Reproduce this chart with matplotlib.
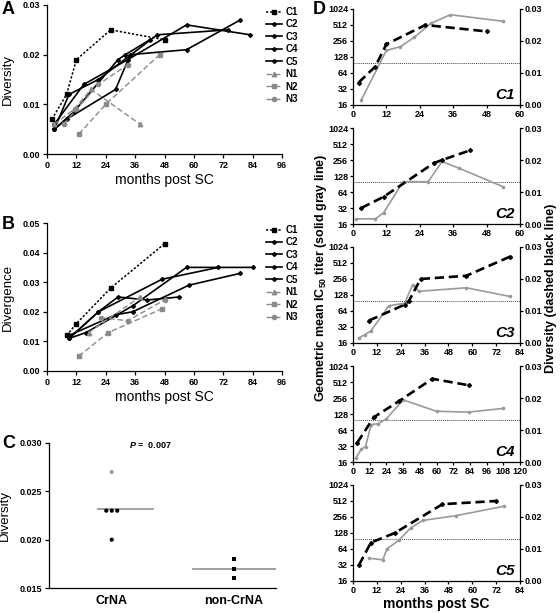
import numpy as np
import matplotlib
matplotlib.use("Agg")
import matplotlib.pyplot as plt
from matplotlib.ticker import FixedLocator, FixedFormatter, NullLocator

plt.rcParams['font.family'] = ['Liberation Sans', 'DejaVu Sans']
plt.rcParams['font.weight'] = 'bold'
plt.rcParams['mathtext.fontset'] = 'custom'
plt.rcParams['mathtext.rm'] = 'Liberation Sans:bold'
plt.rcParams['mathtext.bf'] = 'Liberation Sans:bold'
plt.rcParams['mathtext.it'] = 'Liberation Sans:bold:italic'

# ---- data ----
# A: diversity vs months post SC
a_c1_x = [2, 8, 12, 26, 48]
a_c1_y = [0.007, 0.012, 0.019, 0.025, 0.023]
a_c2_x = [3, 11, 29, 32, 42]
a_c2_y = [0.005, 0.0085, 0.019, 0.020, 0.023]
a_c3_x = [3, 8, 28, 34, 57, 79]
a_c3_y = [0.005, 0.007, 0.013, 0.020, 0.021, 0.027]
a_c4_x = [3, 15, 33, 57, 83]
a_c4_y = [0.006, 0.014, 0.019, 0.026, 0.024]
a_c5_x = [3, 9, 21, 45, 74]
a_c5_y = [0.005, 0.012, 0.015, 0.024, 0.025]
a_n1_x = [3, 11, 18, 38]
a_n1_y = [0.006, 0.009, 0.013, 0.006]
a_n2_x = [13, 24, 46]
a_n2_y = [0.004, 0.010, 0.020]
a_n3_x = [7, 12, 21, 33]
a_n3_y = [0.006, 0.009, 0.014, 0.018]

# B: divergence vs months post SC
b_c1_x = [8, 12, 26, 48]
b_c1_y = [0.012, 0.016, 0.028, 0.043]
b_c2_x = [9, 21, 29, 41, 54]
b_c2_y = [0.011, 0.020, 0.025, 0.024, 0.025]
b_c3_x = [9, 28, 35, 58, 79]
b_c3_y = [0.012, 0.019, 0.020, 0.029, 0.033]
b_c4_x = [9, 16, 35, 57, 84]
b_c4_y = [0.011, 0.013, 0.022, 0.035, 0.035]
b_c5_x = [9, 21, 47, 70]
b_c5_y = [0.011, 0.020, 0.031, 0.035]
b_n1_x = [17, 38]
b_n1_y = [0.013, 0.025]
b_n2_x = [13, 25, 47]
b_n2_y = [0.005, 0.013, 0.021]
b_n3_x = [22, 33, 48]
b_n3_y = [0.018, 0.017, 0.024]

series_names = ['C1', 'C2', 'C3', 'C4', 'C5', 'N1', 'N2', 'N3']

# C: diversity by group
c_groups = ['CrNA', 'non-CrNA']
c_crna = [0.027, 0.023, 0.023, 0.023, 0.020]
c_crna_gray = [True, False, False, False, False]
c_noncrna = [0.018, 0.017, 0.016]
c_pvalue = '0.007'

# D: IC50 titer (gray) and diversity (dashed) per patient
d_names = ['C1', 'C2', 'C3', 'C4', 'C5']
d_xmax = [60, 60, 84, 120, 84]
d_c1_tx = [3, 12, 17, 22, 28, 35, 54]
d_c1_t = [20, 170, 200, 300, 550, 800, 600]
d_c2_tx = [1, 8, 11, 18, 27, 32, 38, 54]
d_c2_t = [20, 20, 26, 100, 100, 240, 180, 80]
d_c3_tx = [3, 6, 9, 18, 26, 30, 33, 57, 79]
d_c3_t = [20, 23, 27, 80, 90, 200, 150, 175, 120]
d_c4_tx = [2, 6, 9, 13, 18, 24, 36, 60, 83, 108]
d_c4_t = [19, 28, 31, 81, 84, 104, 236, 144, 139, 163]
d_c5_tx = [8, 15, 17, 23, 29, 35, 52, 76]
d_c5_t = [43, 40, 64, 93, 159, 220, 272, 408]
d_c1_dx = a_c1_x
d_c1_d = a_c1_y
d_c2_dx = a_c2_x
d_c2_d = a_c2_y
d_c3_dx = [8, 26, 28, 34, 57, 79]
d_c3_d = [0.007, 0.012, 0.013, 0.020, 0.021, 0.027]
d_c4_dx = a_c4_x
d_c4_d = a_c4_y
d_c5_dx = [3, 9, 21, 45, 72]
d_c5_d = [0.005, 0.012, 0.015, 0.024, 0.025]
d_cutoff = 100
d_titer_ticks = [16, 32, 64, 128, 256, 512, 1024]

W, H = 560, 613
fig = plt.figure(figsize=(W / 100, H / 100), dpi=100)
GRAY = '#8a8a8a'
LGRAY = '#9a9a9a'


def px_axes(left, top, right, bottom):
    return fig.add_axes([left / W, 1 - bottom / H, (right - left) / W, (bottom - top) / H])


def style_axes(ax, size=6.5, length=3, pad=2):
    for s in ['top', 'right']:
        ax.spines[s].set_visible(False)
    for s in ['left', 'bottom']:
        ax.spines[s].set_linewidth(0.9)
    ax.tick_params(direction='out', length=length, width=0.9, labelsize=size, pad=pad)


styles = [
    dict(color='k', ls=(0, (1.5, 1.2)), marker='s', ms=2.5, lw=1.1),
    dict(color='k', ls='-', marker='D', ms=2, lw=1.2),
    dict(color='k', ls='-', marker='D', ms=2, lw=1.2),
    dict(color='k', ls='-', marker='D', ms=2, lw=1.2),
    dict(color='k', ls='-', marker='D', ms=2, lw=1.2),
    dict(color=GRAY, ls=(0, (4, 2)), marker='^', ms=3.2, lw=1.0),
    dict(color=GRAY, ls=(0, (4, 2)), marker='s', ms=3.2, lw=1.0),
    dict(color=GRAY, ls=(0, (4, 2)), marker='o', ms=3.0, lw=1.0),
]


def time_panel(ax, xs, ys, ymax, ylabel, leg_top):
    for x, y, name, st in zip(xs, ys, series_names, styles):
        ax.plot(x, y, label=name, **st)
    ax.set_xlim(0, 96)
    ax.set_ylim(0, ymax)
    ax.xaxis.set_major_locator(FixedLocator(range(0, 97, 12)))
    yt = np.arange(0, ymax + 1e-9, 0.01)
    ax.yaxis.set_major_locator(FixedLocator(yt))
    ax.set_yticklabels([f'{v:.2f}' for v in yt])
    style_axes(ax)
    ax.set_xlabel('months post SC', fontsize=10, labelpad=2)
    ax.set_ylabel(ylabel, fontsize=9.5, labelpad=6)
    ax.legend(loc='upper left', bbox_to_anchor=(266 / W, 1 - leg_top / H),
              bbox_transform=fig.transFigure, frameon=False, fontsize=7,
              handlelength=1.6, handletextpad=0.4, labelspacing=0.25,
              borderpad=0, borderaxespad=0)


# ---- A ----
axA = px_axes(47, 5, 282, 154)
time_panel(axA,
           [a_c1_x, a_c2_x, a_c3_x, a_c4_x, a_c5_x, a_n1_x, a_n2_x, a_n3_x],
           [a_c1_y, a_c2_y, a_c3_y, a_c4_y, a_c5_y, a_n1_y, a_n2_y, a_n3_y],
           0.03, 'Diversity', 7)
fig.text(2 / W, 1 - 10 / H, 'A', fontsize=13, fontweight='bold', va='center')

# ---- B ----
axB = px_axes(47, 223, 282, 371)
time_panel(axB,
           [b_c1_x, b_c2_x, b_c3_x, b_c4_x, b_c5_x, b_n1_x, b_n2_x, b_n3_x],
           [b_c1_y, b_c2_y, b_c3_y, b_c4_y, b_c5_y, b_n1_y, b_n2_y, b_n3_y],
           0.05, 'Divergence', 225)
fig.text(2 / W, 1 - 224 / H, 'B', fontsize=13, fontweight='bold', va='center')

# ---- C ----
axC = px_axes(49, 443, 276, 588)
groups = [c_crna, c_noncrna]
mean_lo = [-0.11, -0.335]
mean_hi = [0.34, 0.34]
for i, vals in enumerate(groups):
    vals = np.array(vals)
    offs = np.zeros(len(vals))
    for v in np.unique(vals):
        idx = np.where(vals == v)[0]
        offs[idx] = (np.arange(len(idx)) - (len(idx) - 1) / 2) * 0.045
    if i == 0:
        cols = [LGRAY if g else 'k' for g in c_crna_gray]
        mk = 'o'
    else:
        cols = ['k'] * len(vals)
        mk = 's'
    axC.scatter(i + offs, vals, c=cols, marker=mk, s=9, zorder=3, linewidths=0)
    axC.plot([i + mean_lo[i], i + mean_hi[i]], [vals.mean()] * 2, color=LGRAY, lw=1.3, zorder=2)
axC.set_xlim(-0.513, 1.343)
axC.set_ylim(0.015, 0.030)
ct = [0.015, 0.020, 0.025, 0.030]
axC.yaxis.set_major_locator(FixedLocator(ct))
axC.set_yticklabels([f'{v:.3f}' for v in ct])
axC.set_xticks([0, 1])
axC.set_xticklabels(c_groups)
style_axes(axC)
axC.tick_params(axis='x', length=0, labelsize=9, pad=5)
axC.set_ylabel('Diversity', fontsize=9.5, labelpad=6)
axC.text(0.353, 0.985, '$P$ =  ' + c_pvalue, transform=axC.transAxes, fontsize=6.5, va='center')
fig.text(2 / W, 1 - 443 / H, 'C', fontsize=13, fontweight='bold', va='center')

# ---- D ----
d_tx = [d_c1_tx, d_c2_tx, d_c3_tx, d_c4_tx, d_c5_tx]
d_t = [d_c1_t, d_c2_t, d_c3_t, d_c4_t, d_c5_t]
d_dx = [d_c1_dx, d_c2_dx, d_c3_dx, d_c4_dx, d_c5_dx]
d_d = [d_c1_d, d_c2_d, d_c3_d, d_c4_d, d_c5_d]
for k, name in enumerate(d_names):
    top = 9 + 119 * k
    ax = px_axes(353, top, 520, top + 96)
    ax.set_yscale('log', base=2)
    ax.plot(d_tx[k], d_t[k], color=LGRAY, lw=1.2, marker='o', ms=1.6, zorder=2)
    ax.axhline(d_cutoff, color='#444444', lw=0.7, ls=(0, (1, 1)), zorder=1)
    ax.set_ylim(16, 1024)
    ax.set_xlim(0, d_xmax[k])
    ax.yaxis.set_major_locator(FixedLocator(d_titer_ticks))
    ax.yaxis.set_major_formatter(FixedFormatter([str(v) for v in d_titer_ticks]))
    ax.yaxis.set_minor_locator(NullLocator())
    ax.xaxis.set_major_locator(FixedLocator(range(0, d_xmax[k] + 1, 12)))
    style_axes(ax, 6.5, length=2.5, pad=1)
    ax.text(0.97, 0.1, name, transform=ax.transAxes, ha='right', va='center',
            fontsize=11, fontweight='bold', fontstyle='italic')
    ax2 = ax.twinx()
    ax2.plot(d_dx[k], d_d[k], color='k', lw=1.9, ls=(0, (3.5, 1.8)), marker='D', ms=2, zorder=3)
    ax2.set_ylim(0, 0.03)
    rt = [0, 0.01, 0.02, 0.03]
    ax2.yaxis.set_major_locator(FixedLocator(rt))
    ax2.set_yticklabels([f'{v:.2f}' for v in rt])
    for s in ['top', 'left', 'bottom']:
        ax2.spines[s].set_visible(False)
    ax2.spines['right'].set_linewidth(0.9)
    ax2.tick_params(direction='out', length=2.5, width=0.9, labelsize=6.5, pad=1)

fig.text(313 / W, 1 - 10 / H, 'D', fontsize=13, fontweight='bold', va='center')
fig.text(321 / W, 1 - 278 / H, 'Geometric mean IC$_{50}$ titer (solid gray line)',
         rotation=90, fontsize=9, ha='center', va='center')
fig.text(551 / W, 1 - 288 / H, 'Diversity (dashed black line)',
         rotation=90, fontsize=9, ha='center', va='center')
fig.text(436 / W, 1 - 604 / H, 'months post SC', fontsize=10, ha='center', va='center')

fig.savefig('out.png', dpi=100)
